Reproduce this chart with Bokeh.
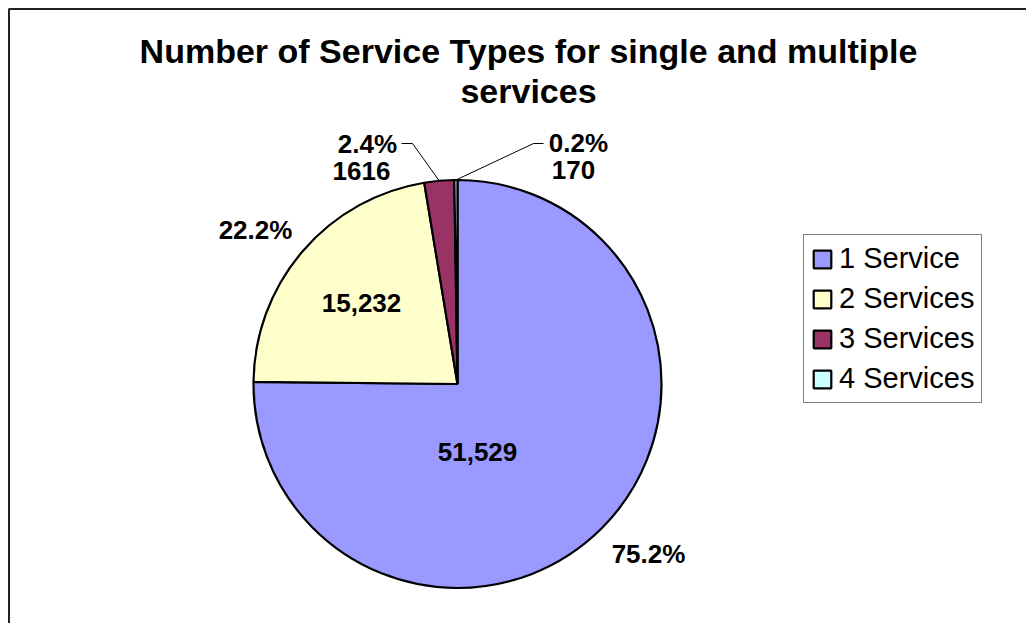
import numpy as np
from bokeh.plotting import figure
from bokeh.models import ColumnDataSource, Range1d, Legend, LegendItem
from bokeh.core.properties import value
from bokeh.embed import file_html
from bokeh.resources import INLINE

# ---- data ----
categories = ["1 Service", "2 Services", "3 Services", "4 Services"]
counts = [51529, 15232, 1616, 170]
value_labels = ["51,529", "15,232", "1616", "170"]
colors = ["#9999FF", "#FFFFCC", "#993366", "#CCFFFF"]
title_lines = ["Number of Service Types for single and multiple", "services"]

# ---- layout (picture pixel coordinates) ----
W, H = 1026, 623
def Y(py):
    return H - py

FONT = "Liberation Sans"
cx, cy, R = 457, Y(383.5), 204

title_pos = [(528, 50), (528, 90)]
pct_pos = [(648, 553), (255, 229), (367, 143), (578, 142)]
val_pos = [(477, 451), (361, 302), (361, 170), (573, 169)]
leader_start = {2: [(401, 143), (412, 143)], 3: [(543, 143), (533, 143)]}

p = figure(width=W, height=H, x_range=Range1d(0, W), y_range=Range1d(0, H),
           output_backend="svg", toolbar_location=None,
           x_axis_location=None, y_axis_location=None,
           min_border=0, outline_line_color=None)
p.grid.visible = False
p.background_fill_color = "white"
p.border_fill_color = "white"

# chart area border (left and top visible)
p.line(x=[8.5, 8.5, W + 10], y=[-10, Y(8.5), Y(8.5)], line_color="#222222", line_width=2)

frac = np.array(counts, dtype=float) / np.sum(counts)
cum = np.concatenate([[0.0], np.cumsum(frac)])
start = np.pi / 2 - 2 * np.pi * cum[:-1]
end = np.pi / 2 - 2 * np.pi * cum[1:]

src = ColumnDataSource(dict(cat=categories, start=start, end=end, color=colors))
wr = p.wedge(x=cx, y=cy, radius=R, start_angle="start", end_angle="end",
             direction="clock", fill_color="color", line_color="black",
             line_width=2.2, source=src)

# title
p.text(x=[q[0] for q in title_pos], y=[Y(q[1]) for q in title_pos], text=title_lines,
       text_font=value(FONT), text_font_style="bold", text_font_size="34px",
       text_align="center", text_baseline="middle", text_color="black")

# percentage labels
pct_text = [f"{100 * f:.1f}%" for f in frac]
p.text(x=[q[0] for q in pct_pos], y=[Y(q[1]) for q in pct_pos], text=pct_text,
       text_font=value(FONT), text_font_style="bold", text_font_size="26px",
       text_align="center", text_baseline="middle", text_color="black")
# value labels
p.text(x=[q[0] for q in val_pos], y=[Y(q[1]) for q in val_pos], text=value_labels,
       text_font=value(FONT), text_font_style="bold", text_font_size="26px",
       text_align="center", text_baseline="middle", text_color="black")

# leader lines for the small slices
xs, ys = [], []
for i, pts in leader_start.items():
    mid = (start[i] + end[i]) / 2
    ex, ey = cx + R * np.cos(mid), cy + R * np.sin(mid)
    xs.append([pts[0][0], pts[1][0], ex])
    ys.append([Y(pts[0][1]), Y(pts[1][1]), ey])
p.multi_line(xs=xs, ys=ys, line_color="black", line_width=1)

legend = Legend(items=[LegendItem(label=c, renderers=[wr], index=i) for i, c in enumerate(categories)],
                location=(803, 220), label_text_font=FONT, label_text_font_size="29px",
                label_text_color="black",
                glyph_width=22, glyph_height=22, label_standoff=6, padding=7, spacing=7,
                border_line_color="black", border_line_width=1, margin=0,
                background_fill_color="white", background_fill_alpha=1.0)
p.add_layout(legend)

open("out.html", "w").write(file_html(p, INLINE))
